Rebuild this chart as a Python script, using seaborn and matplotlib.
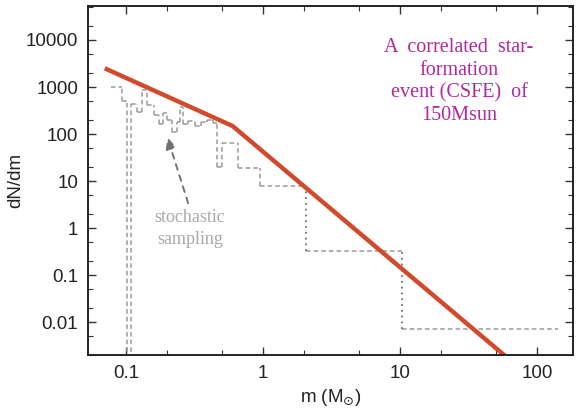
import numpy as np
import matplotlib
matplotlib.use("Agg")
import matplotlib.pyplot as plt
import matplotlib.ticker as mticker
import seaborn as sns

# ---- data ----
# broken power-law IMF (red line vertices)
imf_mass = [0.07, 0.6, 60.0]
imf_dndm = [2500.0, 148.0, 0.0018]

# stochastic sampling histogram (bin edges and dN/dm per bin; 0 = empty bin)
hist_edges = [0.078, 0.0935, 0.1017, 0.1088, 0.120, 0.131, 0.142, 0.160, 0.175,
              0.186, 0.200, 0.215, 0.235, 0.248, 0.262, 0.285, 0.320, 0.350,
              0.390, 0.431, 0.461, 0.502, 0.657, 0.95, 2.06, 10.4, 142.0]
hist_vals = [1000, 500, 0, 430, 300, 850, 420, 250, 160,
             280, 200, 110, 180, 380, 160, 190, 150, 180,
             200, 170, 20, 65, 19, 8, 0.32, 0.0071]

x_ticks = [0.1, 1, 10, 100]
x_ticklabels = ["0.1", "1", "10", "100"]
y_ticks = [0.01, 0.1, 1, 10, 100, 1000, 10000]
y_ticklabels = ["0.01", "0.1", "1", "10", "100", "1000", "10000"]

annotation_text = "A  correlated  star-\nformation\nevent (CSFE)  of\n150Msun"
arrow_text = "stochastic\nsampling"

# ---- style ----
sns.set_style("ticks")
plt.rcParams["font.family"] = ["Liberation Sans", "DejaVu Sans"]
plt.rcParams["mathtext.fontset"] = "dejavusans"

fig = plt.figure(figsize=(5.76, 4.12), dpi=100)
ax = fig.add_axes([88/576, 1-355/412, (573-88)/576, (355-6)/412])
ax.set_xscale("log")
ax.set_yscale("log")
ax.set_xlim(0.0528, 183)
ax.set_ylim(0.002, 52800)

# histogram (dashed steps)
tiny = 1e-6
vals_plot = [v if v > 0 else tiny for v in hist_vals]
hist_gray = "#9a9a9a"
ax.hlines([v for v in vals_plot if v > tiny],
          [e for e, v in zip(hist_edges[:-1], vals_plot) if v > tiny],
          [e for e, v in zip(hist_edges[1:], vals_plot) if v > tiny],
          colors=hist_gray, linestyles=(0, (3, 2)), linewidth=1.1)
for i in range(1, len(vals_plot)):
    lo, hi = vals_plot[i-1], vals_plot[i]
    big = hist_edges[i] > 1.5
    ax.vlines(hist_edges[i], min(lo, hi), max(lo, hi),
              colors="#6f6f6f" if big else hist_gray,
              linestyles=(0, (1, 2.2)) if big else (0, (3, 2)),
              linewidth=1.3 if big else 1.1)

# IMF line
sns.lineplot(x=imf_mass, y=imf_dndm, color="#d24a2e", linewidth=3.2, ax=ax,
             estimator=None, sort=False, solid_capstyle="butt")

# arrow + text
ax.annotate("", xy=(0.20, 87), xytext=(0.284, 3.4),
            arrowprops=dict(arrowstyle="-|>,head_length=0.7,head_width=0.3",
                            linestyle=(0, (3, 3)), color="#707070", lw=1.4,
                            shrinkA=0, shrinkB=0))
ax.text(0.293, 0.98, arrow_text, ha="center", va="center", fontsize=13,
        family=["Liberation Serif", "DejaVu Serif"], color="#a9a9a9",
        linespacing=1.35)

ax.text(0.765, 0.783, annotation_text, transform=ax.transAxes, ha="center",
        va="center", fontsize=14.5, family=["Liberation Serif", "DejaVu Serif"],
        color="#b2289c", linespacing=1.25)

# ticks
ax.xaxis.set_major_locator(mticker.FixedLocator(x_ticks))
ax.xaxis.set_major_formatter(mticker.FixedFormatter(x_ticklabels))
ax.yaxis.set_major_locator(mticker.FixedLocator(y_ticks))
ax.yaxis.set_major_formatter(mticker.FixedFormatter(y_ticklabels))
ax.xaxis.set_minor_locator(mticker.LogLocator(base=10, subs=[2, 5]))
ax.yaxis.set_minor_locator(mticker.LogLocator(base=10, subs=[2, 5]))
ax.xaxis.set_minor_formatter(mticker.NullFormatter())
ax.yaxis.set_minor_formatter(mticker.NullFormatter())
ax.tick_params(which="both", direction="in", top=True, right=True,
               colors="#333333", labelcolor="#222222", labelsize=13.5)
ax.tick_params(which="major", length=6, width=1.0, pad=7)
ax.tick_params(which="minor", length=3.5, width=0.8)
for s in ax.spines.values():
    s.set_linewidth(1.4)
    s.set_color("#222222")

ax.set_xlabel(r"m (M$_{\odot}$)", fontsize=13.5, color="#222222", labelpad=4)
ax.set_ylabel("dN/dm", fontsize=13.5, color="#222222", labelpad=1)

fig.savefig("out.png", dpi=100)
